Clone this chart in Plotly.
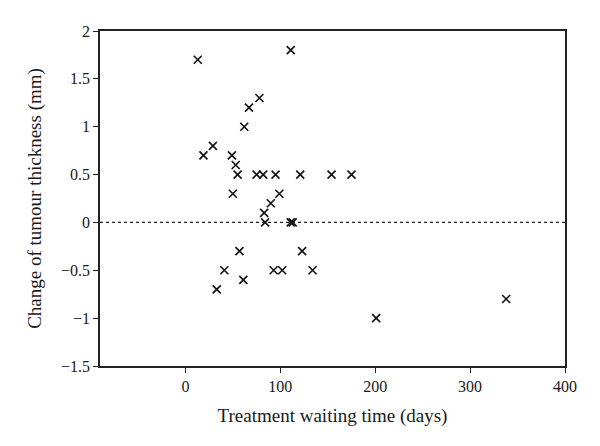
import plotly.graph_objects as go

waiting_days = [13, 111, 78, 67, 62, 29, 19, 49, 53, 55, 75, 82, 95, 121, 154, 175,
                50, 99, 90, 83, 84, 111, 113, 57, 123, 41, 93, 102, 134, 61, 33, 201, 338]
thickness_change = [1.7, 1.8, 1.3, 1.2, 1.0, 0.8, 0.7, 0.7, 0.6, 0.5, 0.5, 0.5, 0.5, 0.5, 0.5, 0.5,
                     0.3, 0.3, 0.2, 0.1, 0.0, 0.0, 0.0, -0.3, -0.3, -0.5, -0.5, -0.5, -0.5, -0.6, -0.7, -1.0, -0.8]

x_ticks = [0, 100, 200, 300, 400]
y_ticks = [2, 1.5, 1, 0.5, 0, -0.5, -1, -1.5]

font = "Liberation Serif"

fig = go.Figure()
fig.add_trace(go.Scatter(
    x=waiting_days, y=thickness_change, mode="markers",
    marker=dict(symbol="x-thin-open", size=8, color="#111111",
                line=dict(width=1.6, color="#111111")),
    showlegend=False,
))
fig.add_shape(type="line", xref="paper", x0=0, x1=1, yref="y", y0=0, y1=0,
              line=dict(color="#222222", width=1.2, dash="dot"))

# page body has an 8px default margin, so the figure is sized to fill the rest
fig.update_layout(
    width=592, height=438,
    margin=dict(l=92, r=35, t=23, b=80),
    paper_bgcolor="white", plot_bgcolor="white",
    font=dict(family=font, size=16, color="#1a1a1a"),
    xaxis=dict(range=[-90, 400], tickvals=x_ticks, showgrid=False, zeroline=False,
               showline=True, linecolor="#222222", linewidth=1.5, mirror=True,
               ticks="outside", ticklen=5, tickcolor="#222222",
               title=dict(text="Treatment waiting time (days)", standoff=15)),
    yaxis=dict(range=[-1.5, 2], tickvals=y_ticks, showgrid=False, zeroline=False,
               showline=True, linecolor="#222222", linewidth=1.5, mirror=True,
               ticks="outside", ticklen=5, tickcolor="#222222",
               title=dict(text="Change of tumour thickness (mm)", standoff=14)),
)

fig.write_html("out.html")
